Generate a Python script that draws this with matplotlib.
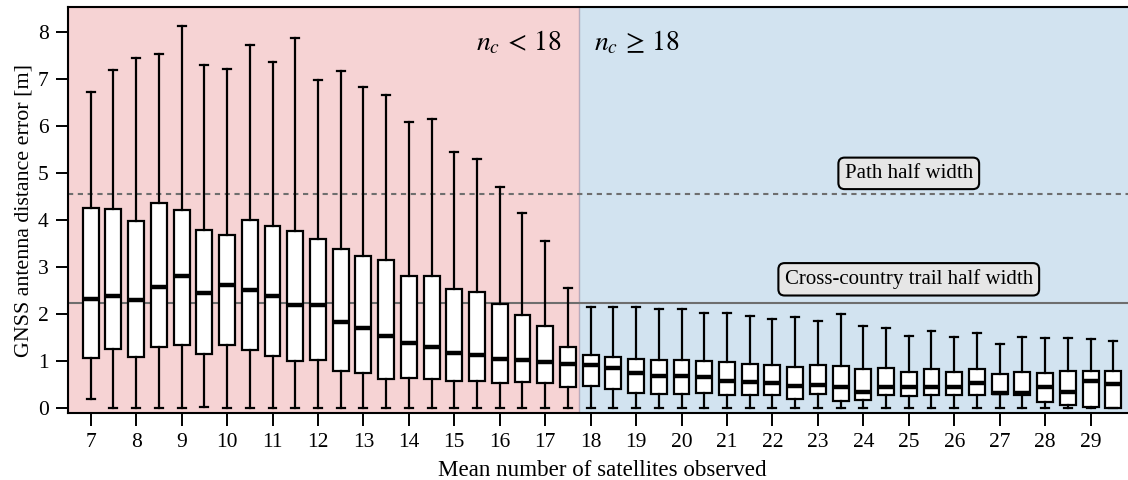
import matplotlib
matplotlib.use("Agg")
import matplotlib.pyplot as plt
import numpy as np

plt.rcParams['font.family'] = ['Liberation Serif', 'DejaVu Serif']
plt.rcParams['mathtext.fontset'] = 'stix'

positions = [7 + 0.5 * i for i in range(46)]

whishi = [6.71, 7.19, 7.45, 7.53, 8.11, 7.29, 7.21, 7.72, 7.36, 7.87, 6.97, 7.16,
          6.83, 6.66, 6.09, 6.14, 5.45, 5.30, 4.71, 4.14, 3.56, 2.56,
          2.15, 2.15, 2.15, 2.10, 2.10, 2.03, 2.03, 1.96, 1.89, 1.93, 1.86, 2.00,
          1.75, 1.71, 1.54, 1.64, 1.51, 1.61, 1.37, 1.51, 1.49, 1.49, 1.47, 1.44]
q3 = [4.26, 4.23, 3.98, 4.35, 4.21, 3.79, 3.68, 3.99, 3.87, 3.76, 3.60, 3.38,
      3.23, 3.14, 2.82, 2.82, 2.54, 2.46, 2.22, 1.99, 1.74, 1.30,
      1.14, 1.10, 1.05, 1.03, 1.02, 1.00, 0.98, 0.95, 0.92, 0.88, 0.91, 0.90,
      0.83, 0.86, 0.77, 0.83, 0.77, 0.83, 0.73, 0.77, 0.76, 0.79, 0.80, 0.79]
med = [2.32, 2.39, 2.31, 2.57, 2.82, 2.44, 2.61, 2.51, 2.39, 2.20, 2.19, 1.83,
       1.71, 1.54, 1.39, 1.30, 1.17, 1.13, 1.05, 1.02, 0.98, 0.95,
       0.91, 0.86, 0.75, 0.69, 0.68, 0.67, 0.58, 0.55, 0.54, 0.47, 0.50, 0.45,
       0.34, 0.46, 0.45, 0.45, 0.45, 0.54, 0.33, 0.33, 0.45, 0.34, 0.58, 0.52]
q1 = [1.07, 1.25, 1.10, 1.30, 1.35, 1.16, 1.34, 1.24, 1.12, 1.00, 1.03, 0.79,
      0.76, 0.63, 0.65, 0.62, 0.58, 0.58, 0.54, 0.56, 0.53, 0.46,
      0.47, 0.41, 0.33, 0.30, 0.30, 0.32, 0.28, 0.28, 0.28, 0.20, 0.30, 0.16,
      0.18, 0.28, 0.26, 0.28, 0.28, 0.28, 0.30, 0.28, 0.14, 0.08, 0.03, 0.00]
whislo = [0.20, 0.00, 0.01, 0.00, 0.00, 0.02, 0.01, 0.00, 0.00, 0.00, 0.00, 0.00,
          0.00, 0.00, 0.00, 0.00, 0.00, 0.00, 0.00, 0.00, 0.00, 0.00,
          0.00, 0.00, 0.00, 0.00, 0.00, 0.00, 0.00, 0.00, 0.00, 0.00, 0.00, 0.00,
          0.00, 0.00, 0.00, 0.00, 0.00, 0.00, 0.00, 0.00, 0.00, 0.00, 0.00, 0.00]

nc_threshold = 17.75
path_half_width = 4.55
trail_half_width = 2.24
xticks = list(range(7, 30))
yticks = list(range(0, 9))

fig = plt.figure(figsize=(11.28, 4.8), dpi=100)
ax = fig.add_axes([68 / 1128, 1 - 413.3 / 480, (1136 - 68) / 1128, (413.3 - 7.3) / 480])

ax.set_xlim(6.5, 30)
ax.set_ylim(-0.106, 8.517)

ax.axvspan(6.5, nc_threshold, color='C3', alpha=0.2, zorder=0)
ax.axvspan(nc_threshold, 30, color='C0', alpha=0.2, zorder=0)

ax.axhline(path_half_width, color='#6e6e6e', ls=(0, (2.5, 2.2)), lw=1.5, zorder=1)
ax.axhline(trail_half_width, color='#6e6e6e', ls='-', lw=1.5, zorder=1)

stats = [dict(med=m, q1=a, q3=b, whislo=lo, whishi=hi, fliers=[])
         for m, a, b, lo, hi in zip(med, q1, q3, whislo, whishi)]
ax.bxp(stats, positions=positions, widths=0.35, patch_artist=True,
       showfliers=False, manage_ticks=False, zorder=2,
       boxprops=dict(facecolor='white', edgecolor='black', linewidth=1.6),
       medianprops=dict(color='black', linewidth=3.2),
       whiskerprops=dict(color='black', linewidth=1.6),
       capprops=dict(color='black', linewidth=1.6))

ax.set_xticks(xticks)
ax.set_xticklabels([str(t) for t in xticks])
ax.set_yticks(yticks)
ax.tick_params(axis='both', labelsize=15.5, length=9, width=1.4, pad=5)

for s in ax.spines.values():
    s.set_linewidth(1.5)

ax.set_xlabel('Mean number of satellites observed', fontsize=16.6, labelpad=6)
ax.set_ylabel('GNSS antenna distance error [m]', fontsize=15.8, labelpad=3)

ax.text(nc_threshold - 0.38, 7.76, r'$n_c \,<\, 18$', ha='right', va='center', fontsize=20)
ax.text(nc_threshold + 0.33, 7.76, r'$n_c \,\geq\, 18$', ha='left', va='center', fontsize=20)

bbox = dict(boxstyle='round,pad=0.3', facecolor='#e6e6e6', edgecolor='black', linewidth=1.5)
ax.text(25, 4.99, 'Path half width', ha='center', va='center', fontsize=15, bbox=bbox, zorder=5)
ax.text(25, 2.74, 'Cross-country trail half width', ha='center', va='center', fontsize=15, bbox=bbox, zorder=5)

fig.savefig('out.png', dpi=100)
